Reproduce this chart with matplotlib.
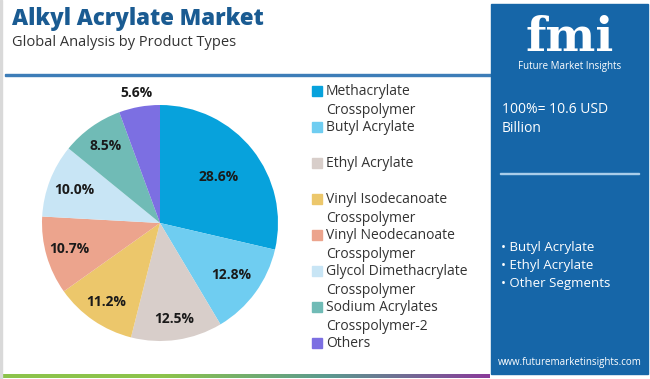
import matplotlib
matplotlib.use("Agg")
import matplotlib.pyplot as plt
import numpy as np
from matplotlib.patches import Rectangle
from matplotlib.colors import LinearSegmentedColormap

plt.rcParams['font.family'] = ['Open Sans', 'DejaVu Sans']

categories = ["Methacrylate\nCrosspolymer", "Butyl Acrylate", "Ethyl Acrylate",
              "Vinyl Isodecanoate\nCrosspolymer", "Vinyl Neodecanoate\nCrosspolymer",
              "Glycol Dimethacrylate\nCrosspolymer", "Sodium Acrylates\nCrosspolymer-2",
              "Others"]
values = [28.6, 12.8, 12.5, 11.2, 10.7, 10.0, 8.5, 5.6]
colors = ["#07a2dc", "#6fcdf1", "#d8ceca", "#ecc76b", "#eca48d", "#c8e5f5", "#70bbb6", "#7c6fe2"]
label_dist = [0.63, 0.75, 0.82, 0.81, 0.8, 0.78, 0.8, 1.12]
side_bullets = ["Butyl Acrylate", "Ethyl Acrylate", "Other Segments"]

W, H = 650, 379
fig = plt.figure(figsize=(W / 100, H / 100), dpi=100)
fig.patch.set_facecolor("white")

def fx(px):
    return px / W

def fy(py):
    return 1 - py / H

# left border
fig.patches.append(Rectangle((0, 0), fx(2), 1, transform=fig.transFigure, color="#d9d9d9", zorder=0))

# title
fig.text(fx(12), fy(19), "Alkyl Acrylate Market", fontsize=16, fontweight="heavy", color="#1a5b92",
         va="center", ha="left")
fig.text(fx(12), fy(42), "Global Analysis by Product Types", fontsize=10.5, color="#333333",
         va="center", ha="left")
# separator line
fig.patches.append(Rectangle((fx(5), fy(76)), fx(487), fy(74) - fy(76), transform=fig.transFigure,
                             color="#3d7db8", zorder=1))

# bottom gradient line
grad = np.linspace(0, 1, 256).reshape(1, -1)
gax = fig.add_axes([fx(2), fy(378), fx(488), fy(374) - fy(378)])
cm = LinearSegmentedColormap.from_list("g", ["#8cc34b", "#8cc34b", "#5b9a8f", "#8a3a9a"])
gax.imshow(grad, aspect="auto", cmap=cm)
gax.axis("off")

# right panel
fig.patches.append(Rectangle((fx(491), fy(374)), fx(157), fy(4) - fy(374), transform=fig.transFigure,
                             color="#1666a8", zorder=1))
fig.text(fx(570), fy(38), "fmi", fontsize=34, fontweight="bold", family="DejaVu Serif",
         color="white", ha="center", va="center", zorder=2)
fig.text(fx(570), fy(66), "Future Market Insights", fontsize=7, color="white", ha="center",
         va="center", zorder=2)
fig.text(fx(502), fy(119), "100%= 10.6 USD\nBillion", fontsize=10, color="white", ha="left",
         va="center", linespacing=1.45, zorder=2)
fig.patches.append(Rectangle((fx(500), fy(174)), fx(139), fy(173) - fy(174), transform=fig.transFigure,
                             color="#a9cdea", zorder=2))
for i, b in enumerate(side_bullets):
    fig.text(fx(501), fy(247 + 18 * i), "\u2022 " + b, fontsize=9.5, color="white", ha="left",
             va="center", zorder=2)
fig.text(fx(570), fy(363), "www.futuremarketinsights.com", fontsize=7, color="white", ha="center",
         va="center", zorder=2)

# pie
ax = fig.add_axes([fx(42), fy(341), fx(236), fy(105) - fy(341)])
wedges, _ = ax.pie(values, colors=colors, startangle=90, counterclock=False, radius=1,
                   wedgeprops=dict(linewidth=0))
ax.set_xlim(-1, 1)
ax.set_ylim(-1, 1)
ax.set_aspect("equal")
for w, v, d in zip(wedges, values, label_dist):
    ang = np.deg2rad((w.theta1 + w.theta2) / 2)
    ax.text(d * np.cos(ang), d * np.sin(ang), f"{v:.1f}%", ha="center", va="center",
            fontsize=10, fontweight="bold", color="#1a1a1a", clip_on=False)

# legend
for i, (lab, c) in enumerate(zip(categories, colors)):
    ytop = 91 + 36 * i
    fig.patches.append(Rectangle((fx(312), fy(ytop + 5)), fx(10), fy(ytop - 5) - fy(ytop + 5),
                                 transform=fig.transFigure, color=c))
    fig.text(fx(326), fy(ytop - 7), lab, fontsize=10, color="#333333", ha="left", va="top",
             linespacing=1.4)

fig.savefig("out.png", dpi=100)
